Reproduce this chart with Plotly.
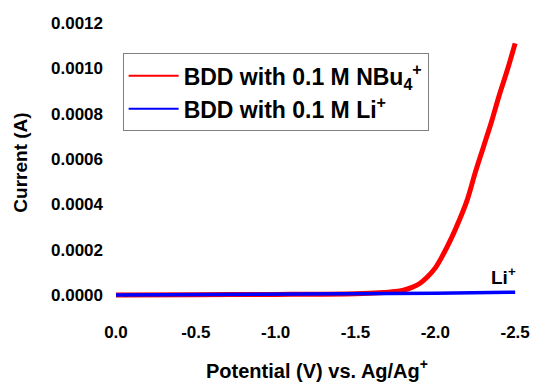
import plotly.graph_objects as go

# Data
pot_nbu = [0.0, -0.5, -1.0, -1.5, -1.65, -1.75, -1.8, -1.85, -1.9, -1.95, -2.0, -2.05,
           -2.1, -2.15, -2.2, -2.25, -2.3, -2.35, -2.4, -2.45, -2.5]
cur_nbu = [0.0, 0.000002, 0.000003, 0.000006, 0.00001, 0.000016, 0.000022, 0.000033,
           0.00005, 0.00008, 0.00012, 0.00018, 0.00025, 0.00033, 0.00042, 0.00054,
           0.00065, 0.00076, 0.00088, 0.00099, 0.00111]
pot_li = [0.0, -0.5, -1.0, -1.5, -2.0, -2.5]
cur_li = [0.0, 0.000002, 0.000003, 0.000005, 0.000008, 0.000013]

x_ticks = [0.0, -0.5, -1.0, -1.5, -2.0, -2.5]
x_labels = ["0.0", "-0.5", "-1.0", "-1.5", "-2.0", "-2.5"]
y_ticks = [0.0, 0.0002, 0.0004, 0.0006, 0.0008, 0.0010, 0.0012]
y_labels = ["0.0000", "0.0002", "0.0004", "0.0006", "0.0008", "0.0010", "0.0012"]

names = ["BDD with 0.1 M NBu<sub>4</sub><sup>+</sup>", "BDD with 0.1 M Li<sup>+</sup>"]
colors = ["#ff0000", "#0000ff"]

FONT = "Arial, Liberation Sans, sans-serif"

fig = go.Figure()
fig.add_trace(go.Scatter(x=pot_nbu, y=cur_nbu, mode="lines", line_shape="spline",
                         line=dict(color=colors[0], width=5), showlegend=False))
fig.add_trace(go.Scatter(x=pot_li, y=cur_li, mode="lines",
                         line=dict(color=colors[1], width=3.5), showlegend=False))
# legend entries (thin lines, as in the reference legend)
for nm, c in zip(names, colors):
    fig.add_trace(go.Scatter(x=[None], y=[None], mode="lines",
                             line=dict(color=c, width=2), name=nm))

fig.add_annotation(x=-2.37, y=0.001245, text="<b>NBu<sub>4</sub><sup>+</sup></b>",
                   showarrow=False, xanchor="center", yanchor="middle",
                   font=dict(size=18, color="black", family=FONT))
fig.add_annotation(x=-2.43, y=0.000085, text="<b>Li<sup>+</sup></b>",
                   showarrow=False, xanchor="center", yanchor="middle",
                   font=dict(size=19, color="black", family=FONT))

fig.update_layout(
    width=536, height=384,
    margin=dict(l=108, r=6, t=15, b=72),
    paper_bgcolor="white", plot_bgcolor="white",
    font=dict(family=FONT, size=17, color="black", weight="bold"),
    showlegend=True,
    legend=dict(x=0.035, y=0.87, xanchor="left", yanchor="top",
                bordercolor="#808080", borderwidth=1, bgcolor="white",
                itemwidth=50,
                font=dict(size=23, family=FONT, color="black", weight="bold"),
                tracegroupgap=0),
)
fig.update_xaxes(range=[0.05, -2.568], tickvals=x_ticks, ticktext=x_labels,
                 showgrid=False, zeroline=False, showline=False, ticks="",
                 ticklabelstandoff=10,
                 tickfont=dict(size=17, family=FONT, weight="bold"),
                 title=dict(text="Potential (V) vs. Ag/Ag<sup>+</sup>",
                            font=dict(size=20, family=FONT, weight="bold"), standoff=22))
fig.update_yaxes(range=[-0.0000656, 0.001235], tickvals=y_ticks, ticktext=y_labels,
                 showgrid=False, zeroline=False, showline=False, ticks="",
                 ticklabelstandoff=4,
                 tickfont=dict(size=17, family=FONT, weight="bold"),
                 title=dict(text="Current (A)",
                            font=dict(size=19, family=FONT, weight="bold"), standoff=18))

fig.write_html("out.html")
